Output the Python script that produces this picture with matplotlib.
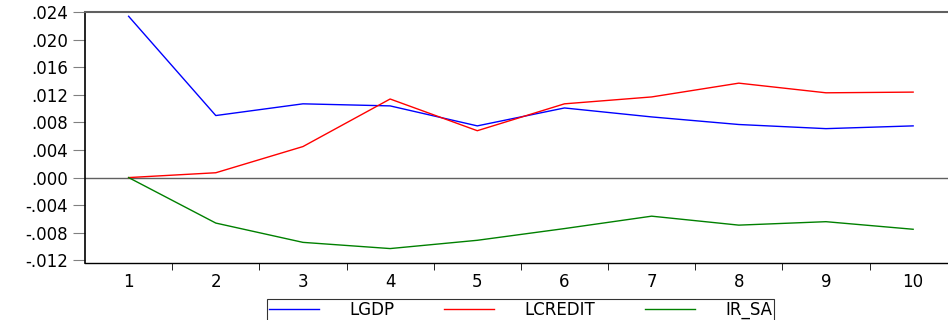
import matplotlib.pyplot as plt
from matplotlib.ticker import FuncFormatter, FixedLocator

periods = list(range(1, 11))
lgdp = [0.0234, 0.0090, 0.0107, 0.0104, 0.0075, 0.0101, 0.0088, 0.0077, 0.0071, 0.0075]
lcredit = [0.0, 0.0007, 0.0045, 0.0114, 0.0068, 0.0107, 0.0117, 0.0137, 0.0123, 0.0124]
ir_sa = [0.0, -0.0066, -0.0094, -0.0103, -0.0091, -0.0074, -0.0056, -0.0069, -0.0064, -0.0075]
yticks = [-0.012, -0.008, -0.004, 0.0, 0.004, 0.008, 0.012, 0.016, 0.020, 0.024]

plt.rcParams['font.family'] = ['DejaVu Sans']

fig = plt.figure(figsize=(9.48, 3.2), dpi=100)
ax = fig.add_axes([0.0897, 0.178, 0.9103, 0.784])

ax.plot(periods, lgdp, color='blue', lw=1, label='LGDP')
ax.plot(periods, lcredit, color='red', lw=1, label='LCREDIT')
ax.plot(periods, ir_sa, color='green', lw=1, label='IR_SA')
ax.axhline(0, color='#606060', lw=1, zorder=0)

ax.set_xlim(0.5, 10.4)
ax.set_ylim(-0.0124, 0.024)
ax.set_yticks(yticks)

def fmt(v, pos):
    s = f"{v:.3f}"
    return s.replace("0.", ".", 1)

ax.yaxis.set_major_formatter(FuncFormatter(fmt))

# category labels at centers, tick marks at boundaries
ax.set_xticks(periods)
ax.set_xticklabels([str(p) for p in periods])
ax.tick_params(axis='x', which='major', length=0, pad=7, labelsize=12)
ax.xaxis.set_minor_locator(FixedLocator([p + 0.5 for p in periods[:-1]]))
ax.tick_params(axis='x', which='minor', length=5, direction='out', color='black')
ax.tick_params(axis='y', length=9, direction='out', color='#808080', labelsize=12, pad=3)

ax.spines['right'].set_visible(False)
ax.spines['top'].set_color('#606060')
ax.spines['top'].set_linewidth(1.5)
ax.spines['left'].set_linewidth(1.2)
ax.spines['bottom'].set_linewidth(1)

leg = ax.legend(loc='upper center', bbox_to_anchor=(0.5046, -0.143), ncol=3, frameon=True,
                fancybox=False, edgecolor='black', fontsize=12, handlelength=3.0,
                columnspacing=3.0, borderpad=0.1, handletextpad=1.8, borderaxespad=0)
leg.get_frame().set_linewidth(0.8)

fig.savefig('out.png', dpi=100)
